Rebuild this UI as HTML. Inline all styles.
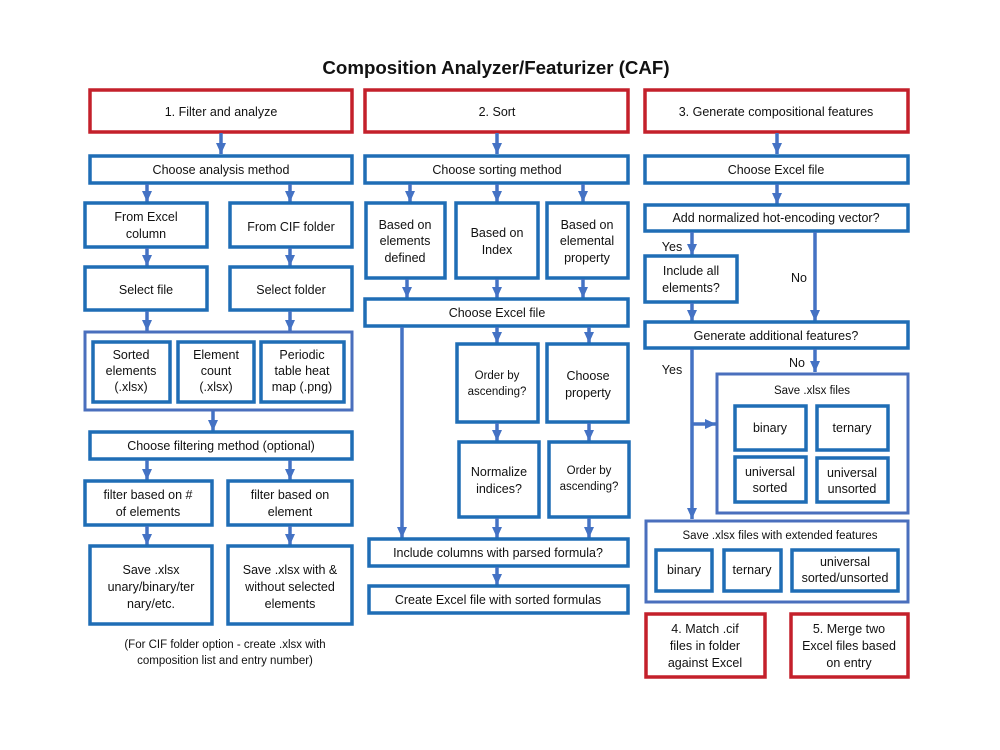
<!DOCTYPE html>
<html><head><meta charset="utf-8"><style>
html,body{margin:0;padding:0;background:#fff;}
svg{display:block;}
text{font-family:"Liberation Sans",sans-serif;font-size:12.5px;fill:#111;text-anchor:middle;}
.b{fill:#fff;stroke:#1f6db5;stroke-width:3.5;}
.r{fill:#fff;stroke:#c4202b;stroke-width:3.5;}
.c{fill:#fff;stroke:#4a6fbd;stroke-width:3;}
.a{stroke:#4472c4;stroke-width:3.5;fill:none;}
</style></head><body>
<svg width="1000" height="750" viewBox="0 0 1000 750" xmlns="http://www.w3.org/2000/svg">
<defs><marker id="m" markerUnits="userSpaceOnUse" markerWidth="12" markerHeight="10" refX="11" refY="5" orient="auto"><path d="M0,0 L11,5 L0,10 Z" fill="#4472c4"/></marker></defs>
<text x="496" y="74" style="font-size:18.7px;font-weight:bold">Composition Analyzer/Featurizer (CAF)</text>

<!-- Column 1 -->
<rect class="r" x="90" y="90" width="262" height="42"/><text x="221" y="116">1. Filter and analyze</text>
<line class="a" x1="221" y1="133" x2="221" y2="154" marker-end="url(#m)"/>
<rect class="b" x="90" y="156" width="262" height="27"/><text x="221" y="174">Choose analysis method</text>
<line class="a" x1="147" y1="184" x2="147" y2="202" marker-end="url(#m)"/>
<line class="a" x1="290" y1="184" x2="290" y2="202" marker-end="url(#m)"/>
<rect class="b" x="85" y="203" width="122" height="44"/><text x="146" y="221">From Excel</text><text x="146" y="238">column</text>
<rect class="b" x="230" y="203" width="122" height="44"/><text x="291" y="231">From CIF folder</text>
<line class="a" x1="147" y1="248" x2="147" y2="266" marker-end="url(#m)"/>
<line class="a" x1="290" y1="248" x2="290" y2="266" marker-end="url(#m)"/>
<rect class="b" x="85" y="267" width="122" height="43"/><text x="146" y="294">Select file</text>
<rect class="b" x="230" y="267" width="122" height="43"/><text x="291" y="294">Select folder</text>
<line class="a" x1="147" y1="311" x2="147" y2="331" marker-end="url(#m)"/>
<line class="a" x1="290" y1="311" x2="290" y2="331" marker-end="url(#m)"/>
<rect class="c" x="85" y="332" width="267" height="78"/>
<rect class="b" x="93" y="342" width="77" height="60"/><text x="131" y="359">Sorted</text><text x="131" y="375">elements</text><text x="131" y="391">(.xlsx)</text>
<rect class="b" x="178" y="342" width="76" height="60"/><text x="216" y="359">Element</text><text x="216" y="375">count</text><text x="216" y="391">(.xlsx)</text>
<rect class="b" x="261" y="342" width="83" height="60"/><text x="302" y="359">Periodic</text><text x="302" y="375">table heat</text><text x="302" y="391">map (.png)</text>
<line class="a" x1="213" y1="411" x2="213" y2="431" marker-end="url(#m)"/>
<rect class="b" x="90" y="432" width="262" height="27"/><text x="221" y="450">Choose filtering method (optional)</text>
<line class="a" x1="147" y1="460" x2="147" y2="480" marker-end="url(#m)"/>
<line class="a" x1="290" y1="460" x2="290" y2="480" marker-end="url(#m)"/>
<rect class="b" x="85" y="481" width="127" height="44"/><text x="148" y="499">filter based on #</text><text x="148" y="516">of elements</text>
<rect class="b" x="228" y="481" width="124" height="44"/><text x="290" y="499">filter based on</text><text x="290" y="516">element</text>
<line class="a" x1="147" y1="526" x2="147" y2="545" marker-end="url(#m)"/>
<line class="a" x1="290" y1="526" x2="290" y2="545" marker-end="url(#m)"/>
<rect class="b" x="90" y="546" width="122" height="78"/><text x="151" y="574">Save .xlsx</text><text x="151" y="591">unary/binary/ter</text><text x="151" y="608">nary/etc.</text>
<rect class="b" x="228" y="546" width="124" height="78"/><text x="290" y="574">Save .xlsx with &amp;</text><text x="290" y="591">without selected</text><text x="290" y="608">elements</text>
<text x="225" y="648" style="font-size:11.5px">(For CIF folder option - create .xlsx with</text>
<text x="225" y="664" style="font-size:11.5px">composition list and entry number)</text>

<!-- Column 2 -->
<rect class="r" x="365" y="90" width="263" height="42"/><text x="497" y="116">2. Sort</text>
<line class="a" x1="497" y1="133" x2="497" y2="154" marker-end="url(#m)"/>
<rect class="b" x="365" y="156" width="263" height="27"/><text x="497" y="174">Choose sorting method</text>
<line class="a" x1="410" y1="184" x2="410" y2="202" marker-end="url(#m)"/>
<line class="a" x1="497" y1="184" x2="497" y2="202" marker-end="url(#m)"/>
<line class="a" x1="583" y1="184" x2="583" y2="202" marker-end="url(#m)"/>
<rect class="b" x="366" y="203" width="79" height="75"/><text x="405" y="229">Based on</text><text x="405" y="245">elements</text><text x="405" y="262">defined</text>
<rect class="b" x="456" y="203" width="82" height="75"/><text x="497" y="237">Based on</text><text x="497" y="254">Index</text>
<rect class="b" x="547" y="203" width="81" height="75"/><text x="587" y="229">Based on</text><text x="587" y="245">elemental</text><text x="587" y="262">property</text>
<line class="a" x1="407" y1="279" x2="407" y2="298" marker-end="url(#m)"/>
<line class="a" x1="497" y1="279" x2="497" y2="298" marker-end="url(#m)"/>
<line class="a" x1="583" y1="279" x2="583" y2="298" marker-end="url(#m)"/>
<rect class="b" x="365" y="299" width="263" height="27"/><text x="497" y="317">Choose Excel file</text>
<line class="a" x1="402" y1="327" x2="402" y2="538" marker-end="url(#m)"/>
<line class="a" x1="497" y1="327" x2="497" y2="343" marker-end="url(#m)"/>
<line class="a" x1="589" y1="327" x2="589" y2="343" marker-end="url(#m)"/>
<rect class="b" x="457" y="344" width="81" height="78"/><text x="497" y="379" style="font-size:11.5px">Order by</text><text x="497" y="395" style="font-size:11.5px">ascending?</text>
<rect class="b" x="547" y="344" width="81" height="78"/><text x="588" y="380">Choose</text><text x="588" y="397">property</text>
<line class="a" x1="497" y1="423" x2="497" y2="441" marker-end="url(#m)"/>
<line class="a" x1="589" y1="423" x2="589" y2="441" marker-end="url(#m)"/>
<rect class="b" x="459" y="442" width="80" height="75"/><text x="499" y="476">Normalize</text><text x="499" y="493">indices?</text>
<rect class="b" x="549" y="442" width="80" height="75"/><text x="589" y="474" style="font-size:11.5px">Order by</text><text x="589" y="490" style="font-size:11.5px">ascending?</text>
<line class="a" x1="497" y1="518" x2="497" y2="538" marker-end="url(#m)"/>
<line class="a" x1="589" y1="518" x2="589" y2="538" marker-end="url(#m)"/>
<rect class="b" x="369" y="539" width="259" height="27"/><text x="498" y="557">Include columns with parsed formula?</text>
<line class="a" x1="497" y1="567" x2="497" y2="585" marker-end="url(#m)"/>
<rect class="b" x="369" y="586" width="259" height="27"/><text x="498" y="604">Create Excel file with sorted formulas</text>

<!-- Column 3 -->
<rect class="r" x="645" y="90" width="263" height="42"/><text x="776" y="116">3. Generate compositional features</text>
<line class="a" x1="777" y1="133" x2="777" y2="154" marker-end="url(#m)"/>
<rect class="b" x="645" y="156" width="263" height="27"/><text x="776" y="174">Choose Excel file</text>
<line class="a" x1="777" y1="184" x2="777" y2="204" marker-end="url(#m)"/>
<rect class="b" x="645" y="205" width="263" height="26"/><text x="776" y="222">Add normalized hot-encoding vector?</text>
<line class="a" x1="692" y1="232" x2="692" y2="255" marker-end="url(#m)"/>
<text x="672" y="251">Yes</text>
<rect class="b" x="645" y="256" width="92" height="46"/><text x="691" y="275">Include all</text><text x="691" y="292">elements?</text>
<line class="a" x1="815" y1="232" x2="815" y2="321" marker-end="url(#m)"/>
<text x="799" y="282">No</text>
<line class="a" x1="692" y1="303" x2="692" y2="321" marker-end="url(#m)"/>
<rect class="b" x="645" y="322" width="263" height="26"/><text x="776" y="340">Generate additional features?</text>
<line class="a" x1="815" y1="349" x2="815" y2="372" marker-end="url(#m)"/>
<text x="797" y="367">No</text>
<text x="672" y="374">Yes</text>
<line class="a" x1="692" y1="349" x2="692" y2="519" marker-end="url(#m)"/>
<line class="a" x1="692" y1="424" x2="716" y2="424" marker-end="url(#m)"/>
<rect class="c" x="717" y="374" width="191" height="139"/>
<text x="812" y="394" style="font-size:11.5px">Save .xlsx files</text>
<rect class="b" x="735" y="406" width="71" height="44"/><text x="770" y="432">binary</text>
<rect class="b" x="817" y="406" width="71" height="44"/><text x="852" y="432">ternary</text>
<rect class="b" x="735" y="457" width="71" height="45"/><text x="770" y="476">universal</text><text x="770" y="492">sorted</text>
<rect class="b" x="817" y="458" width="71" height="44"/><text x="852" y="477">universal</text><text x="852" y="493">unsorted</text>
<rect class="c" x="646" y="521" width="262" height="81"/>
<text x="780" y="539" style="font-size:11.5px">Save .xlsx files with extended features</text>
<rect class="b" x="656" y="550" width="56" height="41"/><text x="684" y="574">binary</text>
<rect class="b" x="724" y="550" width="57" height="41"/><text x="752" y="574">ternary</text>
<rect class="b" x="792" y="550" width="106" height="41"/><text x="845" y="566">universal</text><text x="845" y="582">sorted/unsorted</text>
<rect class="r" x="646" y="614" width="119" height="63"/><text x="705" y="633">4. Match .cif</text><text x="705" y="650">files in  folder</text><text x="705" y="667">against Excel</text>
<rect class="r" x="791" y="614" width="117" height="63"/><text x="849" y="633">5. Merge two</text><text x="849" y="650">Excel files based</text><text x="849" y="667">on entry</text>
</svg>
</body></html>
